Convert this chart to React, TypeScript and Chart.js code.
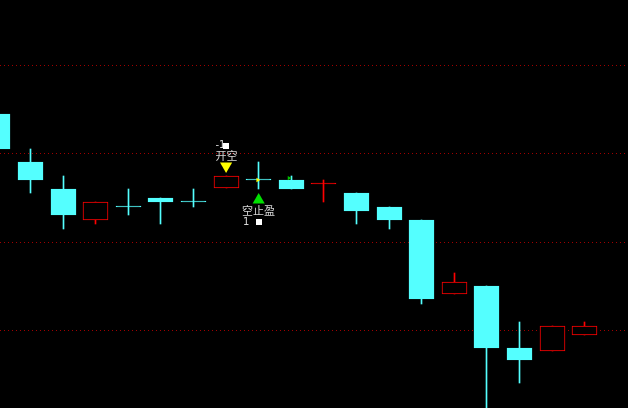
import React, { useEffect, useRef } from 'react';
import { Chart, registerables } from 'chart.js';

Chart.register(...registerables);

// ---- data (price units) ----
const candleIndex = [0, 1, 2, 3, 4, 5, 6, 7, 8, 9, 10, 11, 12, 13, 14, 15, 16, 17, 18];
const opens = [124.45, 119.02, 115.96, 112.45, 113.92, 114.94, 114.49, 116.02, 116.98, 116.98, 116.53, 115.51, 113.92, 112.45, 104.02, 104.98, 97.96, 97.57, 99.49];
const highs = [124.45, 120.49, 117.43, 114.49, 115.96, 114.94, 115.96, 117.43, 119.02, 117.43, 116.98, 115.51, 113.92, 112.45, 106.45, 104.98, 100.91, 100.45, 100.91];
const lows = [120.49, 115.51, 111.43, 112.0, 113.02, 112.0, 113.92, 116.02, 115.96, 115.96, 114.49, 112.0, 111.43, 102.94, 104.02, 89.5, 94.0, 97.57, 99.49];
const closes = [120.49, 116.98, 113.02, 114.49, 113.92, 114.49, 114.49, 117.43, 116.98, 115.96, 116.53, 113.47, 112.45, 103.51, 105.43, 97.96, 96.55, 100.45, 100.45];

const gridLevels = [100, 110, 120, 130];

const signalIndex = [7, 8];
const signalPrice = [118.57, 114.72];
const signalLabel = ['开空', '空止盈'];
const signalQty = ['-1', '1'];
const signalDir = ['down', 'up'];
const signalColor = ['#FFFF00', '#00E000'];

const flagIndex = [7.97, 8.93];
const flagPrice = [116.98, 117.2];
const flagColor = ['#FFFF00', '#00C000'];

const CYAN = '#54FFFF';
const RED = '#FF0000';
const GRID = '#A00000';

function isUp(i: number) {
  if (closes[i] > opens[i]) return true;
  if (closes[i] < opens[i]) return false;
  return i > 0 && closes[i] > closes[i - 1];
}

// snap bar elements to whole pixels so the 1px wicks and borders stay crisp
const snapPlugin = {
  id: 'snapBars',
  afterDatasetsUpdate(chart: any) {
    chart.data.datasets.forEach((_ds: any, di: number) => {
      const meta = chart.getDatasetMeta(di);
      if (meta.type !== 'bar') return;
      meta.data.forEach((el: any) => {
        el.x = Math.floor(el.x) + 0.5;
        const top = Math.round(Math.min(el.y, el.base));
        let bot = Math.round(Math.max(el.y, el.base));
        if (bot - top < 1) bot = top + 1;
        el.y = top;
        el.base = bot;
        el.height = bot - top;
      });
    });
  },
};

// dotted price grid at the y scale's tick levels
const dotGridPlugin = {
  id: 'dotGrid',
  beforeDatasetsDraw(chart: any) {
    const { ctx, chartArea, scales } = chart;
    const ys = scales.y;
    ctx.save();
    ctx.fillStyle = GRID;
    ys.ticks.forEach((t: any) => {
      const row = Math.floor(ys.getPixelForValue(t.value) + 0.5);
      for (let x = Math.ceil(chartArea.left); x < chartArea.right; x += 4) {
        ctx.fillRect(x, row, 1, 1);
      }
    });
    ctx.restore();
  },
};

const signalPlugin = {
  id: 'signalText',
  afterDatasetsDraw(chart: any) {
    const { ctx, scales } = chart;
    const xs = scales.x;
    const ys = scales.y;
    ctx.save();
    signalIndex.forEach((idx, k) => {
      const x = Math.floor(xs.getPixelForValue(idx)) + 0.5;
      const y = ys.getPixelForValue(signalPrice[k]);
      ctx.fillStyle = '#D8D8D8';
      ctx.textAlign = 'center';
      ctx.textBaseline = 'middle';
      ctx.font = '11px "Noto Sans CJK SC", sans-serif';
      if (signalDir[k] === 'down') {
        ctx.fillText(signalLabel[k], x, y - 10);
        ctx.textAlign = 'left';
        ctx.font = '10px "DejaVu Sans", sans-serif';
        ctx.fillText(signalQty[k], x - 11, y - 21);
        ctx.fillStyle = '#FFFFFF';
        ctx.fillRect(Math.round(x - 3.5), Math.round(y - 23), 6, 6);
      } else {
        ctx.fillText(signalLabel[k], x, y + 10.5);
        ctx.textAlign = 'left';
        ctx.font = '10px "DejaVu Sans", sans-serif';
        ctx.fillText(signalQty[k], x - 15.5, y + 22.5);
        ctx.fillStyle = '#FFFFFF';
        ctx.fillRect(Math.round(x - 3), Math.round(y + 19), 6, 6);
      }
    });
    ctx.restore();
  },
};

export default function App() {
  const ref = useRef<HTMLCanvasElement>(null);

  useEffect(() => {
    document.body.style.margin = '0';
    document.body.style.background = '#000';
    const bodyColors = candleIndex.map((i) => (isUp(i) ? (opens[i] === closes[i] ? RED : '#000000') : CYAN));
    const borderColors = candleIndex.map((i) => (isUp(i) ? RED : CYAN));
    const chart = new Chart(ref.current as HTMLCanvasElement, {
      type: 'bar',
      data: {
        datasets: [
          {
            type: 'line',
            data: signalIndex.map((i, k) => ({ x: i, y: signalPrice[k] })),
            showLine: false,
            pointStyle: 'triangle',
            pointRadius: 7,
            pointRotation: signalDir.map((d) => (d === 'down' ? 180 : 0)),
            pointBackgroundColor: signalColor,
            pointBorderColor: signalColor,
            pointBorderWidth: 0,
            order: -2,
          } as any,
          {
            type: 'line',
            data: flagIndex.map((i, k) => ({ x: i, y: flagPrice[k] })),
            showLine: false,
            pointStyle: 'triangle',
            pointRadius: 2.5,
            pointRotation: 90,
            pointBackgroundColor: flagColor,
            pointBorderColor: flagColor,
            pointBorderWidth: 0,
            order: -1,
          } as any,
          {
            type: 'bar',
            data: candleIndex.map((i) => ({ x: i, y: [opens[i], closes[i]] })),
            backgroundColor: bodyColors,
            borderColor: borderColors,
            borderWidth: 1,
            borderSkipped: false,
            barThickness: 25,
            minBarLength: 1,
            grouped: false,
            order: 0,
          } as any,
          {
            type: 'bar',
            data: candleIndex.map((i) => ({ x: i, y: [lows[i], highs[i]] })),
            backgroundColor: borderColors,
            borderWidth: 0,
            barThickness: 1,
            grouped: false,
            order: 2,
          } as any,
        ],
      },
      options: {
        animation: false,
        responsive: true,
        maintainAspectRatio: false,
        layout: { padding: 0, autoPadding: false },
        plugins: { legend: { display: false }, tooltip: { enabled: false } },
        scales: {
          x: {
            type: 'linear',
            min: 0.064,
            max: 19.33,
            offset: false,
            grid: { offset: false },
            display: false,
          },
          y: {
            type: 'linear',
            min: 91.17,
            max: 137.36,
            display: true,
            afterBuildTicks: (scale: any) => {
              scale.ticks = gridLevels.map((v) => ({ value: v }));
            },
            ticks: { display: false },
            grid: { display: false, drawTicks: false, tickLength: 0 },
            border: { display: false },
          },
        },
      } as any,
      plugins: [snapPlugin, dotGridPlugin, signalPlugin],
    });
    return () => chart.destroy();
  }, []);

  return (
    <div style={{ position: 'fixed', left: 0, top: 0, width: 628, height: 408, background: '#000' }}>
      <canvas ref={ref} />
    </div>
  );
}
